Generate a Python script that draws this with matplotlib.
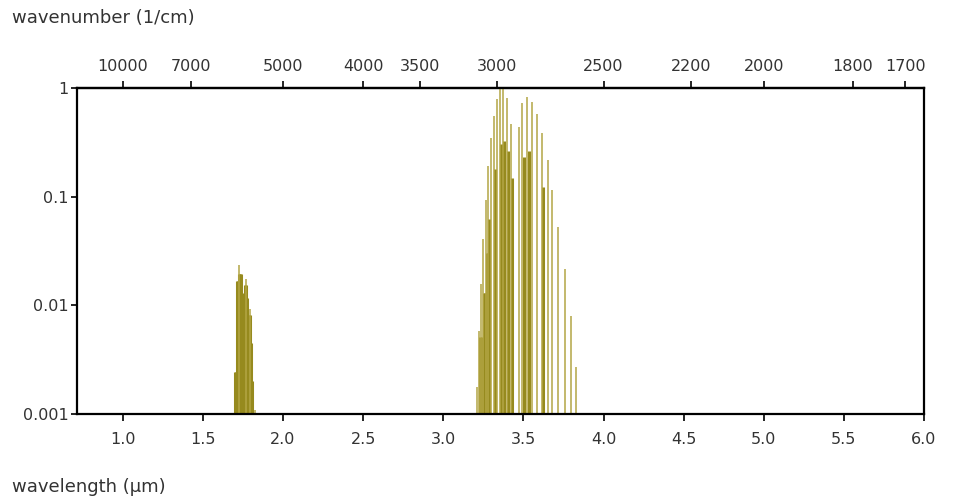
import matplotlib
matplotlib.use("Agg")
import matplotlib.pyplot as plt
from matplotlib.ticker import FixedLocator, FixedFormatter, NullLocator

# --- data ---
# thin individual lines: wavelength (um), intensity
line_wl = [1.725, 1.770, 1.794, 1.825,
           3.212, 3.222, 3.235, 3.251, 3.266, 3.280, 3.300, 3.316, 3.337, 3.354,
           3.375, 3.399, 3.421, 3.473, 3.494, 3.525, 3.554, 3.585, 3.616, 3.651,
           3.680, 3.719, 3.757, 3.794, 3.831]
line_val = [0.0234, 0.0174, 0.0093, 0.0011,
            0.00178, 0.00575, 0.0158, 0.0407, 0.0933, 0.191, 0.349, 0.552, 0.787, 0.973,
            0.977, 0.815, 0.470, 0.438, 0.723, 0.820, 0.738, 0.573, 0.383, 0.218,
            0.115, 0.053, 0.0216, 0.0080, 0.0027]

# dense line groups (drawn as solid bars)
band_wl = [1.702, 1.708, 1.713, 1.719, 1.726, 1.732, 1.738, 1.745, 1.753, 1.761, 1.769, 1.778,
           1.786, 1.794, 1.801, 1.809,
           3.232, 3.242, 3.254, 3.262, 3.270, 3.278, 3.286, 3.322, 3.358, 3.382, 3.407, 3.428,
           3.501, 3.532, 3.623]
band_val = [0.00245, 0.00245, 0.0166, 0.0166, 0.0195, 0.0195, 0.0195, 0.0129, 0.0120, 0.0155,
            0.0155, 0.0117, 0.0081, 0.0081, 0.0045, 0.0020,
            0.0051, 0.0051, 0.0129, 0.0129, 0.0305, 0.0305, 0.0617, 0.179, 0.303, 0.324,
            0.263, 0.150, 0.233, 0.263, 0.122]

x_ticks = [1.0, 1.5, 2.0, 2.5, 3.0, 3.5, 4.0, 4.5, 5.0, 5.5, 6.0]
x_ticklabels = ["1.0", "1.5", "2.0", "2.5", "3.0", "3.5", "4.0", "4.5", "5.0", "5.5", "6.0"]
wn_ticks = [10000, 7000, 5000, 4000, 3500, 3000, 2500, 2200, 2000, 1800, 1700]
y_ticks = [0.001, 0.01, 0.1, 1]
y_ticklabels = ["0.001", "0.01", "0.1", "1"]

DARK = "#968a1e"
LIGHT = "#b3a645"
TXT = "#333333"

plt.rcParams['font.family'] = ['DejaVu Sans']
fig = plt.figure(figsize=(9.6, 5.04), dpi=100)
ax = fig.add_axes([77/960, 1-414/504, (924-77)/960, (414-88)/504])

ymin = 0.001
ax.vlines(band_wl, ymin, band_val, colors=DARK, linewidth=2.2)
ax.vlines(line_wl, ymin, line_val, colors=LIGHT, linewidth=1.1)

ax.set_yscale('log')
ax.set_xlim(1e4/14000, 6.0)
ax.set_ylim(ymin, 1)

ax.xaxis.set_major_locator(FixedLocator(x_ticks))
ax.xaxis.set_major_formatter(FixedFormatter(x_ticklabels))
ax.xaxis.set_minor_locator(NullLocator())
ax.yaxis.set_major_locator(FixedLocator(y_ticks))
ax.yaxis.set_major_formatter(FixedFormatter(y_ticklabels))
ax.yaxis.set_minor_locator(NullLocator())

for s in ax.spines.values():
    s.set_linewidth(1.6)
    s.set_color("black")

ax.tick_params(axis='x', direction='out', length=5, width=1.2, pad=8,
               labelsize=11.5, labelcolor=TXT)
ax.tick_params(axis='y', direction='out', length=4, width=1.2, pad=2,
               labelsize=11.5, labelcolor=TXT)

sec = ax.secondary_xaxis('top', functions=(lambda x: 1e4/x, lambda w: 1e4/w))
sec.set_xticks(wn_ticks)
sec.set_xticklabels([str(w) for w in wn_ticks])
sec.xaxis.set_minor_locator(NullLocator())
sec.tick_params(axis='x', direction='out', length=5, width=1.2, pad=5,
                labelsize=11.5, labelcolor=TXT)
sec.spines['top'].set_linewidth(1.6)

fig.text(12/960, 1-18/504, "wavenumber (1/cm)", fontsize=13, color=TXT,
         ha='left', va='center')
fig.text(12/960, 1-487/504, "wavelength (µm)", fontsize=13, color=TXT,
         ha='left', va='center')

fig.savefig("out.png", dpi=100)
